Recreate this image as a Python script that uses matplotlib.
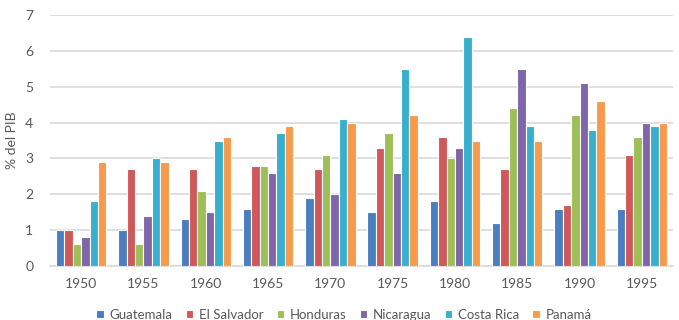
import matplotlib.pyplot as plt
import numpy as np

years = ["1950", "1955", "1960", "1965", "1970", "1975", "1980", "1985", "1990", "1995"]
countries = ["Guatemala", "El Salvador", "Honduras", "Nicaragua", "Costa Rica", "Panamá"]
guatemala = [1.0, 1.0, 1.3, 1.6, 1.9, 1.5, 1.8, 1.2, 1.6, 1.6]
el_salvador = [1.0, 2.7, 2.7, 2.8, 2.7, 3.3, 3.6, 2.7, 1.7, 3.1]
honduras = [0.6, 0.6, 2.1, 2.8, 3.1, 3.7, 3.0, 4.4, 4.2, 3.6]
nicaragua = [0.8, 1.4, 1.5, 2.6, 2.0, 2.6, 3.3, 5.5, 5.1, 4.0]
costa_rica = [1.8, 3.0, 3.5, 3.7, 4.1, 5.5, 6.4, 3.9, 3.8, 3.9]
panama = [2.9, 2.9, 3.6, 3.9, 4.0, 4.2, 3.5, 3.5, 4.6, 4.0]
series = [guatemala, el_salvador, honduras, nicaragua, costa_rica, panama]
colors = ["#4A7EC0", "#D0585A", "#9DBF58", "#7F66AA", "#38B0CD", "#F79A4C"]

plt.rcParams["font.family"] = ["Lato", "DejaVu Sans"]
fig = plt.figure(figsize=(6.79, 3.2), dpi=100)
ax = fig.add_axes([50 / 679, 1 - 266 / 320, 623 / 679, 251 / 320])

x = np.arange(len(years))
bw = 0.135
for i, (vals, col, name) in enumerate(zip(series, colors, countries)):
    ax.bar(x + (i - 2.5) * bw, vals, width=bw, color=col, edgecolor="white",
           linewidth=0.8, label=name, zorder=3)

ax.set_xlim(-0.5, len(years) - 0.5)
ax.set_ylim(0, 7)
ax.set_yticks(range(0, 8))
ax.set_xticks(x)
ax.set_xticklabels(years)
ax.grid(axis="y", color="#D9D9D9", linewidth=1.2, zorder=0)
for s in ["top", "right", "left"]:
    ax.spines[s].set_visible(False)
ax.spines["bottom"].set_color("#D9D9D9")
ax.spines["bottom"].set_linewidth(1.2)
ax.tick_params(axis="both", length=0, labelsize=10, colors="#595959", pad=9)
ax.tick_params(axis="y", pad=12)
ax.set_ylabel("% del PIB", fontsize=10, color="#595959", labelpad=5)

ax.legend(loc="center", bbox_to_anchor=((344 - 50) / 623, -49 / 251), ncol=6, frameon=False,
          fontsize=9.5, labelcolor="#595959", handlelength=0.55, handleheight=0.55,
          handletextpad=0.45, columnspacing=1.0, borderaxespad=0)

fig.savefig("out.png", dpi=100)
